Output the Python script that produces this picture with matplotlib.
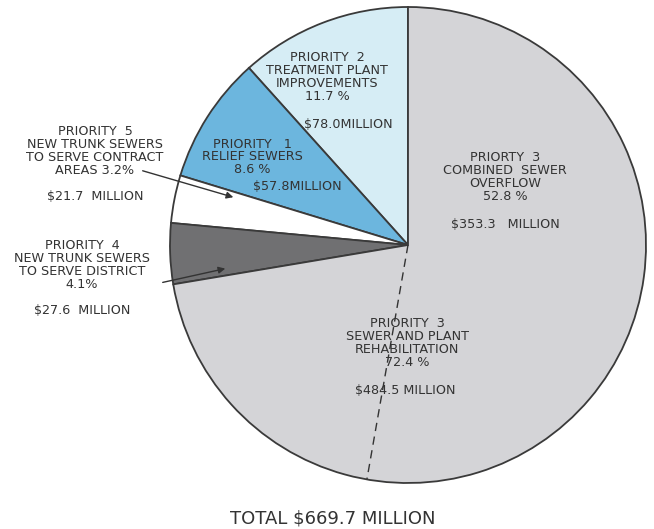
import numpy as np
import matplotlib
matplotlib.use('Agg')
import matplotlib.pyplot as plt

# slices counter-clockwise from 12 o'clock, $ million
names = ['Priority 2', 'Priority 1', 'Priority 5', 'Priority 4', 'Priority 3']
millions = [78.0, 57.8, 21.7, 27.6, 484.5]
overflow = 353.3   # part of priority 3 split off by the dashed line
total_label = 'TOTAL $669.7 MILLION'
colors = ['#d6edf5', '#6cb6de', '#ffffff', '#707072', '#d4d4d7']

labels = [
    ('PRIORITY  2\nTREATMENT PLANT\nIMPROVEMENTS\n11.7 %', 327, 77),
    ('$78.0MILLION', 348, 125),
    ('PRIORITY   1\nRELIEF SEWERS\n8.6 %', 252, 157),
    ('$57.8MILLION', 297, 186),
    ('PRIORITY  5\nNEW TRUNK SEWERS\nTO SERVE CONTRACT\nAREAS 3.2%', 95, 151),
    ('$21.7  MILLION', 95, 197),
    ('PRIORITY  4\nNEW TRUNK SEWERS\nTO SERVE DISTRICT\n4.1%', 82, 265),
    ('$27.6  MILLION', 82, 310),
    ('PRIORTY  3\nCOMBINED  SEWER\nOVERFLOW\n52.8 %', 505, 177),
    ('$353.3   MILLION', 505, 225),
    ('PRIORITY  3\nSEWER AND PLANT\nREHABILITATION\n72.4 %', 407, 343),
    ('$484.5 MILLION', 405, 391),
]

W, H = 654, 529
cx, cy, r = 408, 245, 238

fig = plt.figure(figsize=(W / 100, H / 100), dpi=100)
ax = fig.add_axes([0, 0, 1, 1])

# y axis is flipped, so counterclock=False draws counter-clockwise on screen
ax.pie(millions, colors=colors, startangle=-90, counterclock=False,
       center=(cx, cy), radius=r, frame=True,
       wedgeprops=dict(edgecolor='#3a3a3a', linewidth=1.3))
ax.set_xlim(0, W)
ax.set_ylim(H, 0)
ax.set_aspect('equal')
ax.axis('off')

# dashed split inside priority 3
ang = np.deg2rad(-90 + 360 * overflow / sum(millions))
ax.plot([cx, cx + r * np.cos(ang)], [cy, cy + r * np.sin(ang)],
        ls=(0, (6, 4)), color='#333333', lw=1.0)

for txt, x, y in labels:
    ax.text(x, y, txt, ha='center', va='center', fontsize=9.2,
            color='#333333', linespacing=0.97)

# leader arrows
ax.annotate('', xy=(236, 198), xytext=(140, 170),
            arrowprops=dict(arrowstyle='-|>', color='#333333', lw=1.0,
                            mutation_scale=10))
ax.annotate('', xy=(228, 268), xytext=(160, 283),
            arrowprops=dict(arrowstyle='-|>', color='#333333', lw=1.0,
                            mutation_scale=10))

ax.text(333, 519, total_label, ha='center', va='center', fontsize=13,
        color='#333333')

fig.savefig('out.png', dpi=100)
